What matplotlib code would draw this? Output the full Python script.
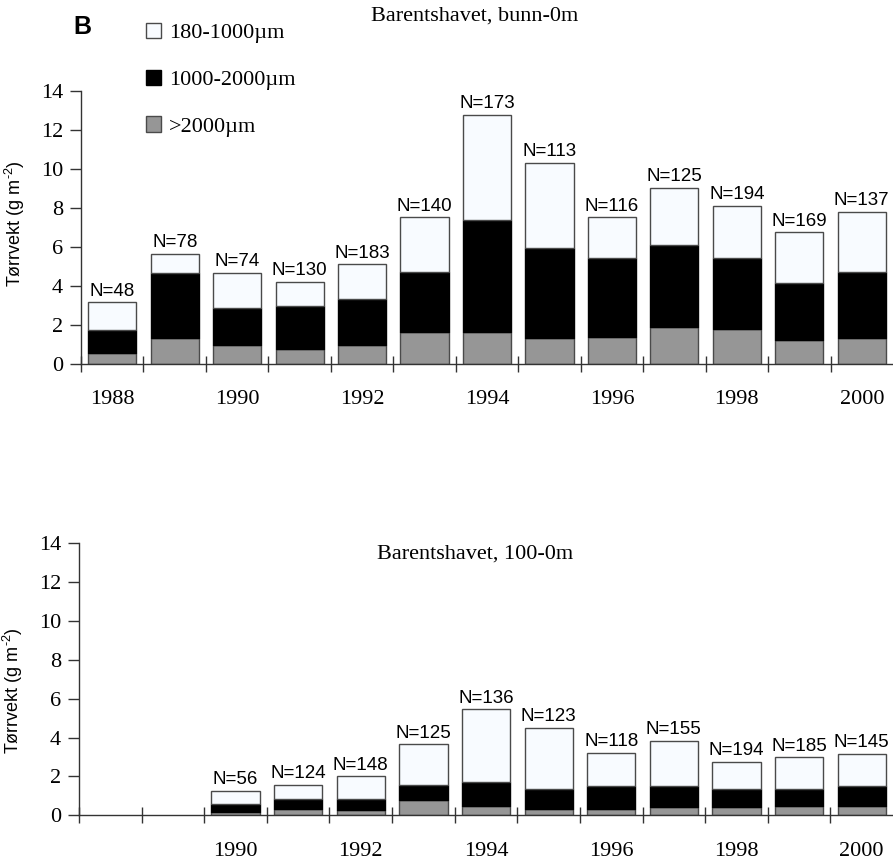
import matplotlib
matplotlib.use('Agg')
import matplotlib.pyplot as plt
from matplotlib.patches import Patch
import numpy as np

plt.rcParams['font.family'] = 'Liberation Serif'
plt.rcParams['mathtext.fontset'] = 'custom'
plt.rcParams['mathtext.rm'] = 'Liberation Sans'
plt.rcParams['mathtext.it'] = 'Liberation Sans'

years = [1988, 1989, 1990, 1991, 1992, 1993, 1994, 1995, 1996, 1997, 1998, 1999, 2000]
year_labels = ['1988', '', '1990', '', '1992', '', '1994', '', '1996', '', '1998', '', '2000']
year_labels_low = ['', '', '1990', '', '1992', '', '1994', '', '1996', '', '1998', '', '2000']

# Barentshavet, bunn-0m  (dry weight per size fraction, g m-2)
bunn_gt2000 = [0.58, 1.33, 0.96, 0.79, 0.96, 1.63, 1.62, 1.33, 1.40, 1.91, 1.78, 1.25, 1.33]
bunn_1000_2000 = [1.16, 3.32, 1.93, 2.17, 2.37, 3.07, 5.76, 4.62, 4.04, 4.19, 3.66, 2.90, 3.40]
bunn_180_1000 = [1.42, 1.01, 1.79, 1.26, 1.78, 2.82, 5.40, 4.37, 2.08, 2.93, 2.68, 2.60, 3.08]
bunn_n = [48, 78, 74, 130, 183, 140, 173, 113, 116, 125, 194, 169, 137]

# Barentshavet, 100-0m  (no samples 1988-1989)
top_gt2000 = [np.nan, np.nan, 0.19, 0.34, 0.27, 0.79, 0.50, 0.34, 0.34, 0.43, 0.41, 0.50, 0.50]
top_1000_2000 = [np.nan, np.nan, 0.39, 0.52, 0.59, 0.77, 1.20, 1.03, 1.15, 1.06, 0.96, 0.87, 0.99]
top_180_1000 = [np.nan, np.nan, 0.69, 0.70, 1.14, 2.09, 3.75, 3.11, 1.72, 2.32, 1.39, 1.61, 1.65]
top_n = [None, None, 56, 124, 148, 125, 136, 123, 118, 155, 194, 185, 145]

legend_labels = ['180-1000µm', '1000-2000µm', '>2000µm']
white = '#f8fbff'
black = '#000000'
grey = '#969696'
edge = '#4a4a4a'


def stacked_panel(ax, gt2000, mid, small, nlist, labels, ylab_y):
    x = np.arange(len(years))
    g = np.array(gt2000, dtype=float)
    m = np.array(mid, dtype=float)
    s = np.array(small, dtype=float)
    ok = ~np.isnan(g)
    w = 0.77
    ax.bar(x[ok], g[ok], w, color=grey, edgecolor=edge, linewidth=1)
    ax.bar(x[ok], m[ok], w, bottom=g[ok], color=black, edgecolor=black, linewidth=1)
    ax.bar(x[ok], s[ok], w, bottom=(g + m)[ok], color=white, edgecolor=edge, linewidth=1)
    for i in x[ok]:
        ax.annotate('N=%d' % nlist[i], (i, g[i] + m[i] + s[i]), xytext=(0, 2),
                    textcoords='offset points', ha='center', va='bottom',
                    family='Liberation Sans', fontsize=13.5)

    ax.set_xlim(-0.5, 12.5)
    ax.set_ylim(0, 14)
    ax.set_yticks(range(0, 15, 2))
    ax.set_xticks(x)
    ax.set_xticklabels(labels)
    ax.set_xticks(np.arange(-0.5, 12.5, 1), minor=True)
    ax.tick_params(axis='x', which='major', length=0, pad=19, labelsize=16)
    ax.tick_params(axis='x', which='minor', direction='inout', length=12,
                   width=1, color='#333333')
    ax.tick_params(axis='y', direction='out', length=8, width=1, pad=5,
                   labelsize=16, color='#333333')
    for side in ['top', 'right']:
        ax.spines[side].set_visible(False)
    for side in ['left', 'bottom']:
        ax.spines[side].set_color('#333333')
        ax.spines[side].set_linewidth(1)
    ax.set_ylabel('Tørrvekt (g m$^{\\text{-2}}$)', family='Liberation Sans', fontsize=13)
    ax.yaxis.set_label_coords(-0.066, ylab_y)
    return ax


fig = plt.figure(figsize=(8.93, 8.64), dpi=100)
ax1 = fig.add_axes([0.0907, 0.5787, 0.9093, 0.316])
ax2 = fig.add_axes([0.0885, 0.0564, 0.9115, 0.3148])

stacked_panel(ax1, bunn_gt2000, bunn_1000_2000, bunn_180_1000, bunn_n, year_labels, 0.515)
stacked_panel(ax2, top_gt2000, top_1000_2000, top_180_1000, top_n, year_labels_low, 0.46)

fig.text(475 / 893, 1 - 16 / 864, 'Barentshavet, bunn-0m', ha='center', va='center', fontsize=16)
fig.text(475 / 893, 1 - 554 / 864, 'Barentshavet, 100-0m', ha='center', va='center', fontsize=16)
fig.text(82 / 893, 1 - 27 / 864, 'B', ha='center', va='center',
         family='Liberation Sans', fontweight='bold', fontsize=18)

handles = [Patch(facecolor=white, edgecolor=edge, linewidth=1),
           Patch(facecolor=black, edgecolor=black, linewidth=1),
           Patch(facecolor=grey, edgecolor=edge, linewidth=1)]
fig.legend(handles, legend_labels, loc='upper left', bbox_to_anchor=(146 / 893, 1 - 23 / 864),
           frameon=False, fontsize=16, borderpad=0, borderaxespad=0,
           handlelength=0.68, handleheight=0.68, handletextpad=0.35, labelspacing=1.18)

plt.savefig('out.png', dpi=100)
plt.close()
